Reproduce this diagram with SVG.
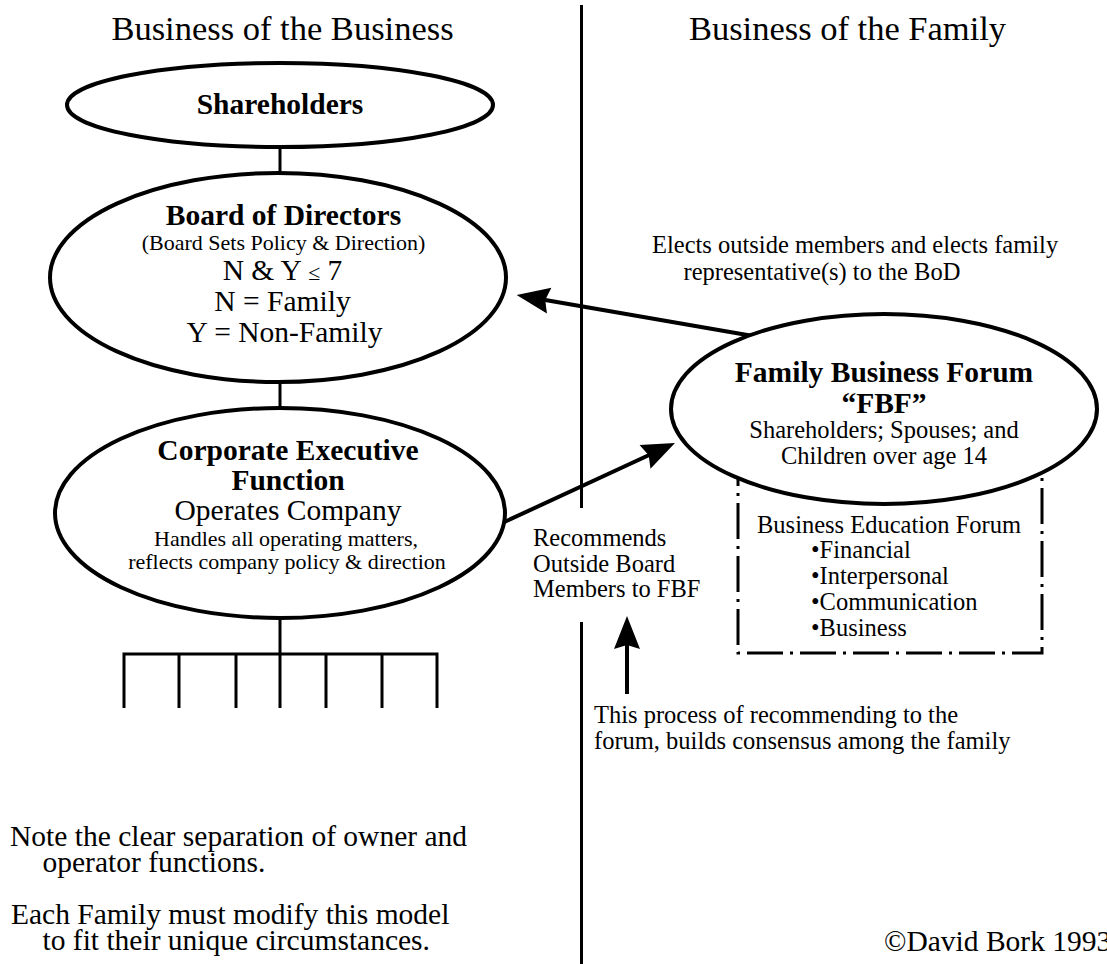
<svg xmlns="http://www.w3.org/2000/svg" width="1107" height="964" viewBox="0 0 1107 964">
  <style>
    text { font-family: "Liberation Serif", "Times New Roman", serif; fill: #000; }
    .head { font-size: 34.5px; }
    .bold { font-size: 29.5px; font-weight: bold; }
    .big { font-size: 29.5px; }
    .small { font-size: 24.5px; }
    .tiny { font-size: 22px; }
    .mid { text-anchor: middle; }
    .node { fill: #fff; stroke: #000; stroke-width: 4; }
    .wire { fill: none; stroke: #000; stroke-width: 3; }
    .arrow { fill: none; stroke: #000; stroke-width: 4; marker-end: url(#head); }
    .dashbox { fill: none; stroke: #000; stroke-width: 3; stroke-dasharray: 36 7 3 7; }
  </style>
  <defs>
    <marker id="head" markerUnits="userSpaceOnUse" markerWidth="60" markerHeight="60" refX="0" refY="0" orient="auto" overflow="visible">
      <path d="M10,0 L-23,-13 L-19,0 L-23,13 Z" fill="#000"/>
    </marker>
  </defs>

  <rect width="1107" height="964" fill="#fff"/>

  <!-- column headings and the dividing rule -->
  <g id="headings">
    <text class="head mid" x="282.5" y="40">Business of the Business</text>
    <text class="head mid" x="847.5" y="40">Business of the Family</text>
  </g>
  <g id="divider" class="wire">
    <line x1="581.5" y1="5" x2="581.5" y2="508"/>
    <line x1="581.5" y1="622" x2="581.5" y2="964"/>
  </g>

  <!-- connectors -->
  <g id="connectors">
    <line class="wire" x1="280" y1="146" x2="280" y2="175"/>
    <line class="wire" x1="280" y1="380" x2="280" y2="410"/>
    <line class="wire" x1="280" y1="616" x2="280" y2="654"/>
    <path class="wire" d="M124,708 V654 H437 V708 M179,654 V708 M236,654 V708 M280,654 V708 M326,654 V708 M382,654 V708"/>
    <line class="arrow" x1="753" y1="336" x2="526.5" y2="296.7"/>
    <line class="arrow" x1="505" y1="521.7" x2="665.9" y2="447.2"/>
    <line class="arrow" x1="627" y1="694" x2="627" y2="626"/>
  </g>

  <g id="shareholders">
    <ellipse class="node" cx="280" cy="105" rx="213" ry="42"/>
    <text class="bold mid" x="280" y="114">Shareholders</text>
  </g>

  <g id="board">
    <ellipse class="node" cx="278" cy="277.5" rx="228" ry="104.5"/>
    <text class="bold mid" x="283.5" y="225">Board of Directors</text>
    <text class="tiny mid" x="283.5" y="250">(Board Sets Policy &amp; Direction)</text>
    <text class="big mid" x="282.5" y="280">N &amp; Y <tspan class="tiny">≤</tspan> 7</text>
    <text class="big mid" x="282.5" y="311">N = Family</text>
    <text class="big mid" x="284.5" y="342">Y = Non-Family</text>
  </g>

  <g id="executive">
    <ellipse class="node" cx="280" cy="513" rx="225" ry="105"/>
    <text class="bold mid" x="288" y="460">Corporate Executive</text>
    <text class="bold mid" x="288" y="490">Function</text>
    <text class="big mid" x="288" y="520">Operates Company</text>
    <text class="tiny mid" x="286" y="545.5">Handles all operating matters,</text>
    <text class="tiny mid" x="287" y="569">reflects company policy &amp; direction</text>
  </g>

  <g id="education-forum">
    <path class="dashbox" d="M738,450 V653 H1042 V450"/>
    <text class="small" x="757" y="533">Business Education Forum</text>
    <text class="small" x="811" y="558">•Financial</text>
    <text class="small" x="811" y="584">•Interpersonal</text>
    <text class="small" x="811" y="610">•Communication</text>
    <text class="small" x="811" y="635.5">•Business</text>
  </g>

  <g id="family-forum">
    <ellipse class="node" cx="884" cy="409" rx="213" ry="95"/>
    <text class="bold mid" x="884" y="382">Family Business Forum</text>
    <text class="bold mid" x="884" y="413">“FBF”</text>
    <text class="small mid" x="884" y="438">Shareholders; Spouses; and</text>
    <text class="small mid" x="884" y="463.5">Children over age 14</text>
  </g>

  <!-- labels on the arrows -->
  <g id="labels">
    <text class="small" x="652" y="253">Elects outside members and elects family</text>
    <text class="small" x="683.5" y="280">representative(s) to the BoD</text>
    <text class="small" x="533" y="545.5">Recommends</text>
    <text class="small" x="533" y="571.5">Outside Board</text>
    <text class="small" x="533" y="597">Members to FBF</text>
    <text class="small" x="594" y="723">This process of recommending to the</text>
    <text class="small" x="594" y="749">forum, builds consensus among the family</text>
  </g>

  <g id="notes">
    <text class="big" x="10" y="846">Note the clear separation of owner and</text>
    <text class="big" x="42.5" y="872">operator functions.</text>
    <text class="big" x="11" y="924">Each Family must modify this model</text>
    <text class="big" x="42.5" y="950">to fit their unique circumstances.</text>
    <text class="big" x="884" y="951">©David Bork 1993</text>
  </g>
</svg>
